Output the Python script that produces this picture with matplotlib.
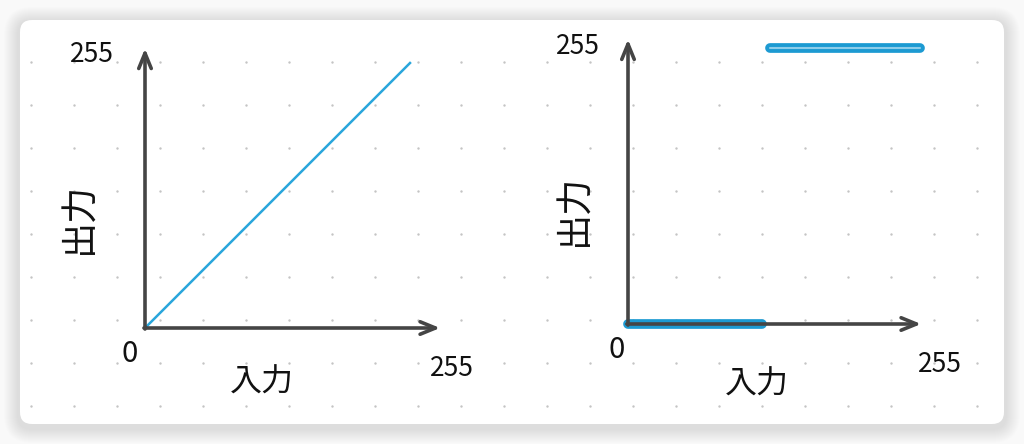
import numpy as np
import matplotlib
matplotlib.use("Agg")
import matplotlib.pyplot as plt
from matplotlib.patches import FancyBboxPatch

plt.rcParams['font.family'] = ['Noto Sans CJK JP', 'DejaVu Sans']

# data: input -> output (0..255)
linear_in = [0, 255]
linear_out = [0, 255]
low_in = [0, 117]
low_out = [0, 0]
high_in = [124, 255]
high_out = [255, 255]
tick_max = "255"
tick_zero = "0"
xlabel = "入力"
ylabel = "出力"

W, H = 1024, 444
fig = plt.figure(figsize=(W / 100, H / 100), dpi=100)
fig.patch.set_facecolor("#f9f9f9")

# background: card, soft shadow, dot grid (pixel coords)
bg = fig.add_axes([0, 0, 1, 1])
bg.set_xlim(0, W)
bg.set_ylim(H, 0)
bg.axis("off")
for i in range(14):
    p = 16 - i
    bg.add_patch(FancyBboxPatch((20 - p, 20 - p + 3), 984 + 2 * p, 404 + 2 * p,
                                boxstyle="round,pad=0,rounding_size=%d" % (12 + p),
                                fc="black", ec="none", alpha=0.009))
bg.add_patch(FancyBboxPatch((20, 20), 984, 404, boxstyle="round,pad=0,rounding_size=12",
                            fc="white", ec="none"))
gx, gy = np.meshgrid(np.arange(31, 1004, 43), np.arange(62, 424, 43))
bg.scatter(gx.ravel(), gy.ravel(), s=3, color="#c4c4c4", lw=0)

ink = "#111111"
axis_col = "#454545"


def panel(left, bottom, width, height):
    ax = fig.add_axes([left / W, (H - bottom) / H, width / W, height / H])
    ax.set_xlim(0, 255)
    ax.set_ylim(0, 255)
    ax.axis("off")
    ax.patch.set_alpha(0)
    return ax


def draw_axes(ax, xend, yend):
    style = "->,head_length=1.1,head_width=0.45"
    ax.annotate("", xy=(xend, 0), xytext=(-1, 0), annotation_clip=False,
                arrowprops=dict(arrowstyle=style, lw=2.6, color=axis_col, shrinkA=0, shrinkB=0))
    ax.annotate("", xy=(0, yend), xytext=(0, -1), annotation_clip=False,
                arrowprops=dict(arrowstyle=style, lw=2.6, color=axis_col, shrinkA=0, shrinkB=0))


# left: linear
ax1 = panel(145, 328, 265, 265)
draw_axes(ax1, 284, 269)
ax1.plot(linear_in, linear_out, color="#2aa6dc", lw=1.8, clip_on=False)

bg.text(92, 55, tick_max, fontsize=19, color=ink, ha="center", va="center")
bg.text(130, 354, tick_zero, fontsize=21, color=ink, ha="center", va="center")
bg.text(262, 383, xlabel, fontsize=23, color=ink, ha="center", va="center")
bg.text(452, 368, tick_max, fontsize=19, color=ink, ha="center", va="center")
bg.text(80, 218, ylabel, fontsize=26, color=ink, ha="center", va="center", rotation=90)

# right: threshold
ax2 = panel(628, 324, 292, 276)
draw_axes(ax2, 256, 263)
for xs, ys in [(low_in, low_out), (high_in, high_out)]:
    ax2.plot(xs, ys, color="#1c9ad2", lw=7, solid_capstyle="round", clip_on=False)
    ax2.plot(xs, ys, color="#8dcdea", lw=1.5, solid_capstyle="round", clip_on=False)

bg.text(578, 47, tick_max, fontsize=19, color=ink, ha="center", va="center")
bg.text(617, 350, tick_zero, fontsize=21, color=ink, ha="center", va="center")
bg.text(757, 385, xlabel, fontsize=23, color=ink, ha="center", va="center")
bg.text(940, 364, tick_max, fontsize=19, color=ink, ha="center", va="center")
bg.text(575, 210, ylabel, fontsize=26, color=ink, ha="center", va="center", rotation=90)

fig.savefig("out.png", dpi=100, facecolor=fig.get_facecolor())
